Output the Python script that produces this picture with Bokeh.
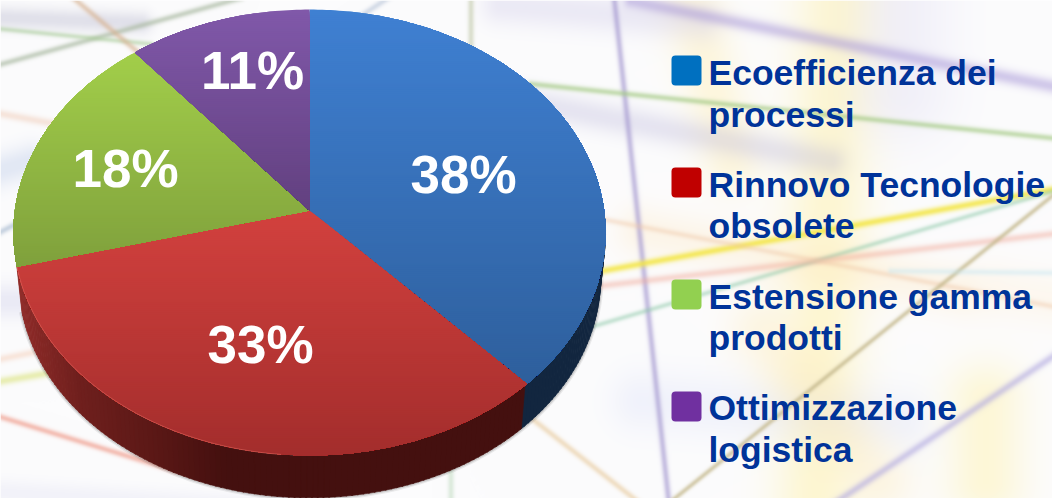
import numpy as np
from bokeh.core.properties import value
from bokeh.embed import file_html
from bokeh.models import Range1d
from bokeh.plotting import figure
from bokeh.resources import INLINE

# Chart data
categories = ["Ecoefficienza dei\nprocessi", "Rinnovo Tecnologie\nobsolete",
              "Estensione gamma\nprodotti", "Ottimizzazione\nlogistica"]
shares = [38, 33, 18, 11]
legend_colors = ["#0070C0", "#C00000", "#92D050", "#7030A0"]
face_top = ["#3F80D2", "#D2413E", "#A2CE4A", "#8058A9"]
face_bottom = ["#2E5F9C", "#A32D2C", "#7FA03C", "#62407F"]
label_xy = [(463, 174), (260, 344), (125, 168), (252, 70)]

W, H = 1052, 498
APEX_X, APEX_Y = 309, 210
PERSP, SCALE_X, SCALE_Y = 0.0987, 294.6, 220.8
DEPTH = 46


def sy(y):
    return H - np.asarray(y, dtype=float)


def rim(theta, scale_x=SCALE_X, scale_y=SCALE_Y, drop=0.0):
    """Screen position of a rim point; theta runs clockwise from twelve o'clock."""
    u, v = np.sin(theta), np.cos(theta)
    w = 1 + PERSP * v
    return APEX_X + scale_x * u / w, APEX_Y - scale_y * v / w + drop


def blend(c0, c1, t):
    a = [int(c0[i:i + 2], 16) for i in (1, 3, 5)]
    b = [int(c1[i:i + 2], 16) for i in (1, 3, 5)]
    return "#%02x%02x%02x" % tuple(int(round(x + (y - x) * t)) for x, y in zip(a, b))


def clip_band(pts, y0, y1):
    """Sutherland-Hodgman clip of a polygon to the band y0 <= y <= y1."""
    def clip(poly, inside, cut):
        out = []
        for i, p in enumerate(poly):
            q = poly[(i + 1) % len(poly)]
            if inside(p):
                out.append(p)
            if inside(p) != inside(q):
                t = (cut - p[1]) / (q[1] - p[1])
                out.append((p[0] + t * (q[0] - p[0]), cut))
        return out
    poly = clip(pts, lambda p: p[1] >= y0, y0)
    return clip(poly, lambda p: p[1] <= y1, y1) if poly else poly


# Soft coloured streaks behind the chart: x0, y0, x1, y1, colour, sigma, alpha
streaks = [
    (840, -100, 810, 600, "#fff0a0", 30.0, .45), (985, 400, 985, 480, "#fff0a0", 28.0, .40),
    (680, -40, 730, 160, "#ffeeb0", 22.0, .40), (900, -40, 900, 90, "#d8d4f0", 38.0, .30),
    (500, 4, 700, 20, "#d8d4ec", 14.0, .45), (-20, 175, 30, 160, "#c8d4ec", 12.0, .50),
    (-20, 300, 30, 300, "#d8d8ee", 12.0, .50), (-20, 490, 300, 510, "#dcdcf0", 9.0, .30),
    (520, 100, 830, 160, "#b8b4d8", 11.0, .32), (640, 400, 900, 420, "#e0e4f8", 22.0, .40),
    (640, 230, 960, 290, "#ffe8c0", 18.0, .32), (-20, 16, 140, 22, "#c0c0d4", 8.0, .45),
    (760, 330, 880, 480, "#ffe8b0", 24.0, .30), (1000, 290, 1060, 300, "#fff0d8", 20.0, .35),
    (630, 0, 1060, 87, "#a898d8", 5.0, .50), (613, -5, 668, 503, "#a498d0", 2.3, .60),
    (530, 83, 1060, 138, "#a4ca84", 2.2, .60), (590, 272, 1060, 187, "#f4e640", 2.6, .78),
    (590, 326, 1060, 188, "#8cc8a8", 1.9, .46), (590, 286, 1060, 232, "#f0a898", 2.7, .42),
    (590, 216, 1060, 307, "#f0c8a8", 2.2, .40), (668, 502, 1060, 188, "#c4b88c", 1.8, .68),
    (834, 502, 1060, 350, "#b0a8e0", 2.8, .55), (-10, 66, 240, -3, "#a8b8a0", 2.2, .60),
    (-10, 27, 150, 43, "#a8cc98", 1.9, .52), (70, -5, 150, 62, "#d8b494", 2.2, .60),
    (-10, 111, 60, 124, "#f0ccb8", 2.9, .48), (-10, 236, 30, 215, "#a0b4cc", 2.2, .55),
    (-10, 360, 50, 348, "#f4c8b0", 2.7, .42), (-10, 382, 60, 370, "#dce480", 2.9, .58),
    (-10, 413, 175, 470, "#f0a090", 2.2, .65), (530, 417, 640, 503, "#ecd4b0", 2.2, .70),
    (390, -5, 345, 25, "#b8c4d8", 2.2, .55), (470, -5, 470, 60, "#c0c8a8", 2.2, .55),
    (890, 270, 1060, 272, "#c0e4f0", 2.2, .38), (450, 470, 450, 503, "#bcd8bc", 2.2, .48),
]

yy, xx = np.mgrid[0:H, 0:W].astype(float)
canvas = np.ones((H, W, 3)) * np.array([252, 252, 253], dtype=float)
for x0, y0, x1, y1, col, sigma, alpha in streaks:
    dx, dy = x1 - x0, y1 - y0
    t = np.clip(((xx - x0) * dx + (yy - y0) * dy) / (dx * dx + dy * dy), 0, 1)
    d2 = (xx - x0 - t * dx) ** 2 + (yy - y0 - t * dy) ** 2
    a = (alpha * np.exp(-d2 / (2 * sigma * sigma)))[..., None]
    rgb = np.array([int(col[i:i + 2], 16) for i in (1, 3, 5)], dtype=float)
    canvas = canvas * (1 - a) + rgb * a
rgba = np.dstack([canvas.astype(np.uint8), np.full((H, W), 255, dtype=np.uint8)])
backdrop = np.flipud(rgba).view(dtype=np.uint32).reshape(H, W)

p = figure(width=W, height=H, output_backend="svg", toolbar_location=None,
           x_range=Range1d(0, W), y_range=Range1d(0, H), min_border=0,
           outline_line_color=None)
p.axis.visible = False
p.grid.visible = False
p.image_rgba(image=[backdrop], x=0, y=0, dw=W, dh=H)

# Slice boundaries follow from the shares
edges = 2 * np.pi * np.cumsum([0] + shares) / sum(shares)

# Soft shadow hugging the outside of the wall
wall_th = np.linspace(np.radians(92), edges[2], 160)
bx, by = rim(wall_th, 289.6, 217.5, DEPTH)
for width, alpha in ((6, .10), (3.5, .18)):
    p.line(bx, sy(by), line_color="#505050", line_width=width, line_alpha=alpha)

# Wall of the disc, as narrow quads shaded from left to right
wall_stops_x = [15, 80, 160, 230]
wall_stops = [(0x92, 0x2d, 0x2a), (0x70, 0x20, 0x1e), (0x5a, 0x18, 0x16), (0x44, 0x10, 0x0f)]
xs, ys, cs = [], [], []
for a0, a1 in zip(wall_th[:-1], wall_th[1:]):
    a1x = a1 + 0.004
    tx0, ty0 = rim(a0)
    tx1, ty1 = rim(a1x)
    bx0, by0 = rim(a0, 289.6, 217.5, DEPTH)
    bx1, by1 = rim(a1x, 289.6, 217.5, DEPTH)
    xs.append([tx0, tx1, bx1, bx0])
    ys.append(sy([ty0, ty1, by1, by0]))
    if a0 < edges[1]:
        cs.append("#12263f")
    else:
        xm = (tx0 + bx0) / 2
        cs.append("#%02x%02x%02x" % tuple(int(np.interp(xm, wall_stops_x, [s[k] for s in wall_stops]))
                                          for k in range(3)))
p.patches(xs, ys, fill_color=cs, line_color=cs, line_width=0.6)

# Top face of each slice, cut into thin overlapping bands for the vertical shading
for i, share in enumerate(shares):
    th = np.linspace(edges[i], edges[i + 1], max(24, share * 4))
    rx, ry = rim(th)
    poly = [(APEX_X, APEX_Y)] + list(zip(rx, ry))
    ymin, ymax = min(q[1] for q in poly), max(q[1] for q in poly)
    xs, ys, cs = [], [], []
    for y0 in np.arange(ymin, ymax, 2.0):
        piece = clip_band(poly, y0, ymax)
        if len(piece) < 3:
            continue
        xs.append([q[0] for q in piece])
        ys.append(sy([q[1] for q in piece]))
        cs.append(blend(face_top[i], face_bottom[i], (y0 - ymin) / (ymax - ymin)))
    p.patches(xs, ys, fill_color=cs, line_color=None)

# Faint highlight where the red face meets its wall
hl_th = np.linspace(np.radians(185), edges[2], 60)
hx, hy = rim(hl_th)
p.line(hx, sy(hy), line_color="#e06a60", line_width=1, line_alpha=0.55)

# Percentages on the slices
p.text([q[0] for q in label_xy], sy([q[1] for q in label_xy]), text=[f"{s}%" for s in shares],
       text_color="#ffffff", text_font=value("Liberation Sans"), text_font_style="bold",
       text_font_size="53px", text_align="center", text_baseline="alphabetic")

# Legend: rounded swatches and two-line labels
rows_first_baseline = [72, 184, 296, 407]
rows_second_baseline = [114, 225, 337, 449]
swatch_bottom = [85, 197, 309, 421]
p.quad(left=[671] * 4, right=[701] * 4,
       top=sy([b - 30 for b in swatch_bottom]), bottom=sy(swatch_bottom),
       fill_color=legend_colors, line_color=None, border_radius=4)
lines = [c.split("\n") for c in categories]
p.text([708] * 8, sy(rows_first_baseline + rows_second_baseline),
       text=[l[0] for l in lines] + [l[1] for l in lines],
       text_color="#003399", text_font=value("Liberation Sans"), text_font_style="bold",
       text_font_size="35.5px", text_align="left", text_baseline="alphabetic")

open("out.html", "w").write(file_html(p, INLINE))
